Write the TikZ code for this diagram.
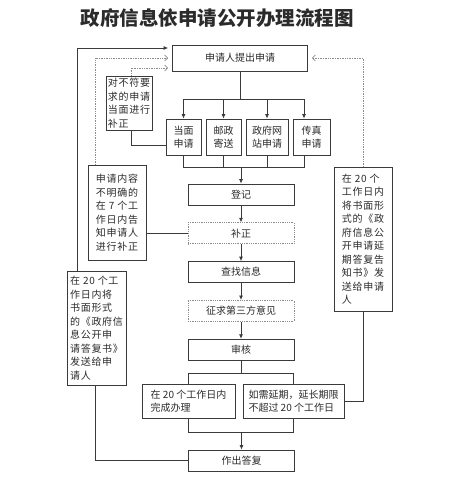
\documentclass[tikz,border=0pt]{standalone}
\usepackage{fontspec}
\newfontfamily\cjk{Noto Sans CJK SC}
\newfontfamily\cjkwide[LetterSpace=7]{Noto Sans CJK SC}
\usetikzlibrary{arrows.meta,positioning}
\definecolor{linegray}{HTML}{3A3A3A}
\definecolor{dotgray}{HTML}{8C8C8C}
\definecolor{textgray}{HTML}{2B2B2B}

\begin{document}
\begin{tikzpicture}[x=1pt, y=-1pt,
  node distance=17pt,
  box/.style={draw=linegray, line width=0.8pt, fill=white, align=center, inner sep=2pt, text=textgray, font=\cjk\fontsize{10}{13.5}\selectfont},
  colbox/.style={box, minimum width=106pt, minimum height=21pt},
  sidebox/.style={box, align=left, font=\cjkwide\fontsize{10}{13.5}\selectfont},
  dotbox/.style={draw=dotgray, densely dotted},
  line/.style={draw=linegray, line width=0.8pt},
  arr/.style={line, -{Latex[length=4.5pt,width=4pt]}},
  back/.style={draw=dotgray, line width=0.7pt, densely dotted, -{Straight Barb[length=3pt,width=6pt]}, shorten >=4pt}
]
\useasboundingbox (0,0) rectangle (454,500);

% title
\node[text=textgray, font=\cjk\bfseries\fontsize{19.5}{24}\selectfont] (title) at (217,18) {政府信息依申请公开办理流程图};

% top and the four ways
\node[box, minimum width=135pt, minimum height=26pt] (apply) at (240,58) {申请人提出申请};
\node[box, minimum width=35pt, minimum height=36pt] (face) at (183.5,137) {当面\\申请};
\node[box, minimum width=35pt, minimum height=36pt] (post) at (223.5,137) {邮政\\寄送};
\node[box, minimum width=42pt, minimum height=36pt] (web) at (267,137) {政府网\\站申请};
\node[box, minimum width=37pt, minimum height=36pt] (fax) at (311.5,137) {传真\\申请};

% main column
\node[colbox] (reg) at (241,194.5) {登记};
\node[colbox, dotbox, below=of reg] (fix) {补正};
\node[colbox, below=of fix] (search) {查找信息};
\node[colbox, dotbox, below=of search] (third) {征求第三方意见};
\node[colbox, below=of third] (review) {审核};
\node[box, align=left, minimum width=93pt, minimum height=34pt] (inlimit) at (188.5,401) {在 20 个工作日内\\完成办理};
\node[box, align=left, minimum width=101pt, minimum height=34pt] (extend) at (293.5,401) {如需延期，延长期限\\不超过 20 个工作日};
\node[colbox] (reply) at (241.5,460.5) {作出答复};

% side boxes
\node[sidebox, minimum width=46pt, minimum height=54pt] (onsite) at (129,103) {对不符要\\求的申请\\当面进行\\补正};
\node[sidebox, minimum width=58pt, minimum height=95pt] (unclear) at (117,212.5) {申请内容\\不明确的\\在 7 个工\\作日内告\\知申请人\\进行补正};
\node[sidebox, minimum width=59pt, minimum height=114pt] (result) at (96.5,328) {在 20 个工\\作日内将\\书面形式\\的《政府信\\息公开申\\请答复书》\\发送给申\\请人};
\node[sidebox, minimum width=58pt, minimum height=144pt] (notice) at (363,239) {在 20 个\\工作日内\\将书面形\\式的《政\\府信息公\\开申请延\\期答复告\\知书》发\\送给申请\\人};

% splits and joins
\coordinate[below=28pt of apply.south] (split1);
\coordinate[above=16pt of reg.north] (join1);
\coordinate[below=13pt of review.south] (split2);
\coordinate[above=17pt of reply.north] (join2);

\draw[line] (apply) -- (split1);
\draw[arr] (split1) -| (face);
\draw[arr] (split1) -| (post);
\draw[arr] (split1) -| (web);
\draw[arr] (split1) -| ([xshift=-7.5pt]fax.north);
\draw[line] (face) |- (join1);
\draw[line] (post) |- (join1);
\draw[line] (web) |- (join1);
\draw[line] ([xshift=-7.5pt]fax.south) |- (join1);
\draw[arr] (join1) -- (reg);

\draw[arr] (reg) -- (fix);
\draw[arr] (fix) -- (search);
\draw[arr] (search) -- (third);
\draw[arr] (third) -- (review);

\draw[line] (review) -- (split2);
\draw[line] (split2) -| (inlimit);
\draw[line] (split2) -| (extend);
\draw[line] (inlimit) |- (join2);
\draw[line] (extend) |- (join2);
\draw[arr] (join2) -- (reply);

% feedback lines
\draw[line] (extend) -| (notice);
\draw[back] (notice) |- (apply);
\draw[line] (unclear.east |- fix) -- (fix);
\draw[back] ([xshift=-22pt]unclear.north) |- (apply);
\draw[back] ([xshift=2pt]onsite.north) |- ([yshift=-10pt]apply.west);
\draw[line] ([xshift=2pt]onsite.south) |- ([yshift=-8pt]face.west);
\draw[arr, shorten >=4pt] ([xshift=-19.5pt]result.north) |- ([yshift=10pt]apply.west);
\draw[line] ([xshift=-1.5pt]result.south) |- (reply);
\end{tikzpicture}
\end{document}
